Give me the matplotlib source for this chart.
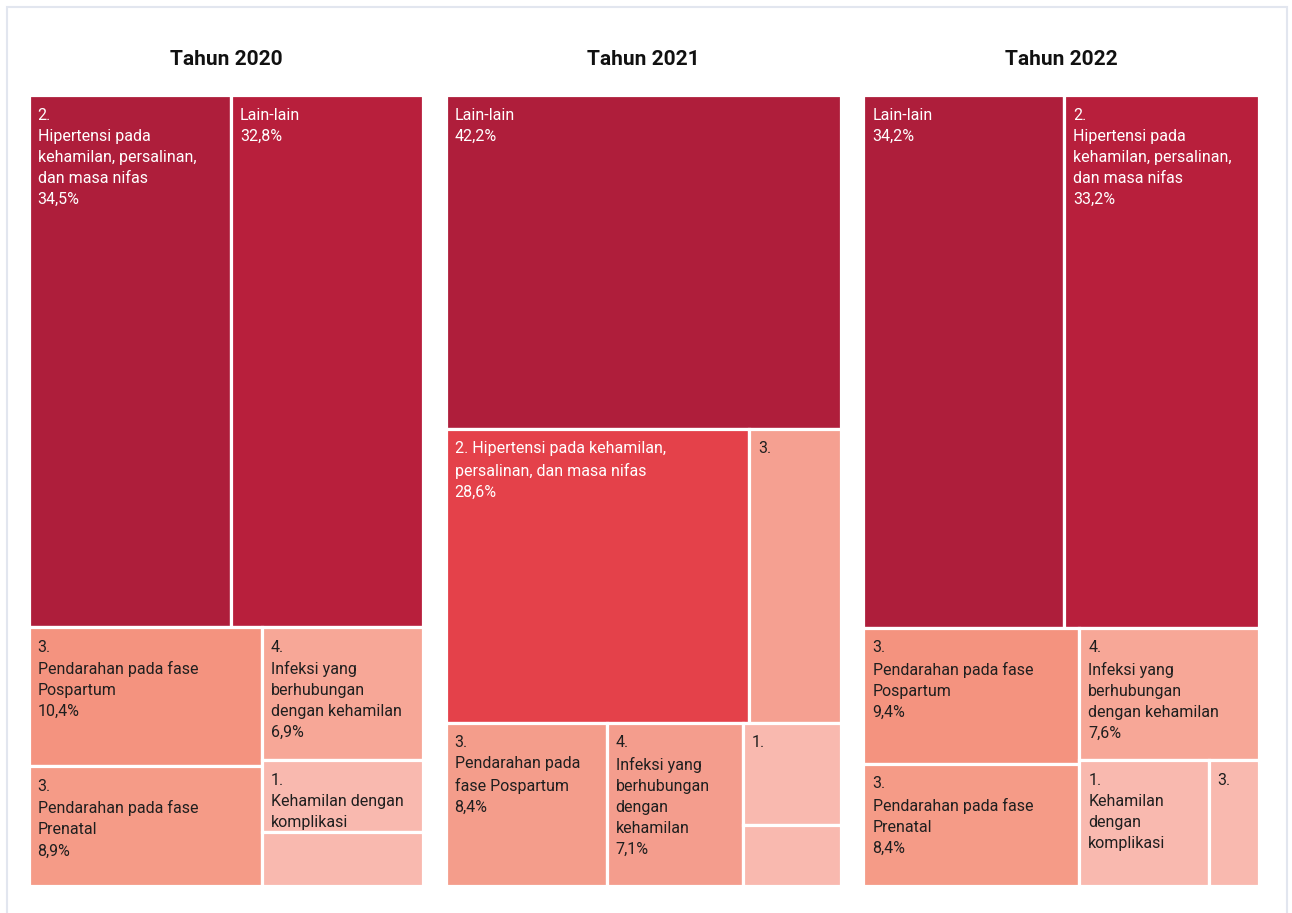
import matplotlib
matplotlib.use("Agg")
import matplotlib.pyplot as plt
from matplotlib.patches import Rectangle
from matplotlib.colors import to_rgb

plt.rcParams['font.family'] = ['Roboto', 'DejaVu Sans']

# ---- data -------------------------------------------------------------
titles = ["Tahun 2020", "Tahun 2021", "Tahun 2022"]

labels_2020 = [
    "2.\nHipertensi pada\nkehamilan, persalinan,\ndan masa nifas",
    "Lain-lain",
    "3.\nPendarahan pada fase\nPospartum",
    "4.\nInfeksi yang\nberhubungan\ndengan kehamilan",
    "3.\nPendarahan pada fase\nPrenatal",
    "1.\nKehamilan dengan\nkomplikasi",
    "",
]
values_2020 = [34.5, 32.8, 10.4, 6.9, 8.9, 3.7, 2.8]
show_pct_2020 = [True, True, True, True, True, False, False]

labels_2021 = [
    "Lain-lain",
    "2. Hipertensi pada kehamilan,\npersalinan, dan masa nifas",
    "3.",
    "3.\nPendarahan pada\nfase Pospartum",
    "4.\nInfeksi yang\nberhubungan\ndengan\nkehamilan",
    "1.",
    "",
]
values_2021 = [42.2, 28.6, 8.6, 8.4, 7.1, 3.2, 1.9]
show_pct_2021 = [True, True, False, True, True, False, False]

labels_2022 = [
    "Lain-lain",
    "2.\nHipertensi pada\nkehamilan, persalinan,\ndan masa nifas",
    "3.\nPendarahan pada fase\nPospartum",
    "4.\nInfeksi yang\nberhubungan\ndengan kehamilan",
    "3.\nPendarahan pada fase\nPrenatal",
    "1.\nKehamilan\ndengan\nkomplikasi",
    "3.",
]
values_2022 = [34.2, 33.2, 9.4, 7.6, 8.4, 5.2, 2.0]
show_pct_2022 = [True, True, True, True, True, False, False]

# ---- styling ----------------------------------------------------------
colors_2020 = ["#AE1E3B", "#B81F3C", "#F4937F", "#F7A797", "#F59B87", "#F9B9AF", "#F9B9AF"]
colors_2021 = ["#AF1E3B", "#E4414A", "#F5A091", "#F49D8B", "#F49D8D", "#F9B9AF", "#F9B9AF"]
colors_2022 = ["#AE1E3B", "#B81F3C", "#F4937F", "#F7A797", "#F59B87", "#F9B9AF", "#F9B9AF"]

# Nesting of the cells: 'v' stacks children top to bottom,
# 'h' places them left to right; every share follows the values.
layout_2020 = ('v', [('h', [0, 1]), ('h', [('v', [2, 4]), ('v', [3, 5, 6])])])
layout_2021 = ('v', [0, ('h', [1, 2]), ('h', [3, 4, ('v', [5, 6])])])
layout_2022 = ('v', [('h', [0, 1]), ('h', [('v', [2, 4]), ('v', [3, ('h', [5, 6])])])])

years = [
    (titles[0], labels_2020, values_2020, show_pct_2020, colors_2020, layout_2020),
    (titles[1], labels_2021, values_2021, show_pct_2021, colors_2021, layout_2021),
    (titles[2], labels_2022, values_2022, show_pct_2022, colors_2022, layout_2022),
]


def node_sum(node, values):
    if isinstance(node, int):
        return values[node]
    return sum(node_sum(c, values) for c in node[1])


def partition(node, values, x0, y0, x1, y1, out):
    if isinstance(node, int):
        out[node] = (x0, y0, x1, y1)
        return
    direction, children = node
    total = node_sum(node, values)
    pos = x0 if direction == 'h' else y0
    for child in children:
        frac = node_sum(child, values) / total
        if direction == 'h':
            step = (x1 - x0) * frac
            partition(child, values, pos, y0, pos + step, y1, out)
        else:
            step = (y1 - y0) * frac
            partition(child, values, x0, pos, x1, pos + step, out)
        pos += step


def fmt_pct(v):
    return f"{v:.1f}".replace('.', ',') + "%"


def text_color(fill):
    r, g, b = to_rgb(fill)
    lum = 0.2126 * r + 0.7152 * g + 0.0722 * b
    return "white" if lum < 0.45 else "#1f1f1f"


W, H = 1292, 913
fig = plt.figure(figsize=(W / 100, H / 100), dpi=100)
fig.patch.set_facecolor("white")

# light frame around the graphic
fig.add_artist(Rectangle((7 / W, -0.05), 1280 / W, (H - 7) / H + 0.05,
                         transform=fig.transFigure, fill=False,
                         edgecolor="#e2e6ef", linewidth=1.5))

panel_lefts = [28.5, 445.5, 863.5]
panel_w = 395
top_px, bottom_px = 95.5, 885.5

for (title, labels, values, show_pct, colors, layout), left in zip(years, panel_lefts):
    ax = fig.add_axes([left / W, 1 - bottom_px / H, panel_w / W, (bottom_px - top_px) / H])
    ax.set_xlim(0, 1)
    ax.set_ylim(1, 0)
    ax.axis("off")

    rects = {}
    partition(layout, values, 0.0, 0.0, 1.0, 1.0, rects)
    for i, v in enumerate(values):
        x0, y0, x1, y1 = rects[i]
        ax.add_patch(Rectangle((x0, y0), x1 - x0, y1 - y0, facecolor=colors[i],
                               edgecolor="white", linewidth=2.3))
        text = labels[i]
        if show_pct[i]:
            text = (text + "\n" if text else "") + fmt_pct(v)
        if text:
            ax.annotate(text, xy=(x0, y0), xycoords="data",
                        xytext=(6.5, -9.0), textcoords="offset points",
                        ha="left", va="top", fontsize=11.5, linespacing=1.5,
                        color=text_color(colors[i]))

    ax.set_title(title, fontsize=15, fontweight="bold", color="#111111", pad=22)

fig.savefig("out.png", dpi=100, facecolor="white")
